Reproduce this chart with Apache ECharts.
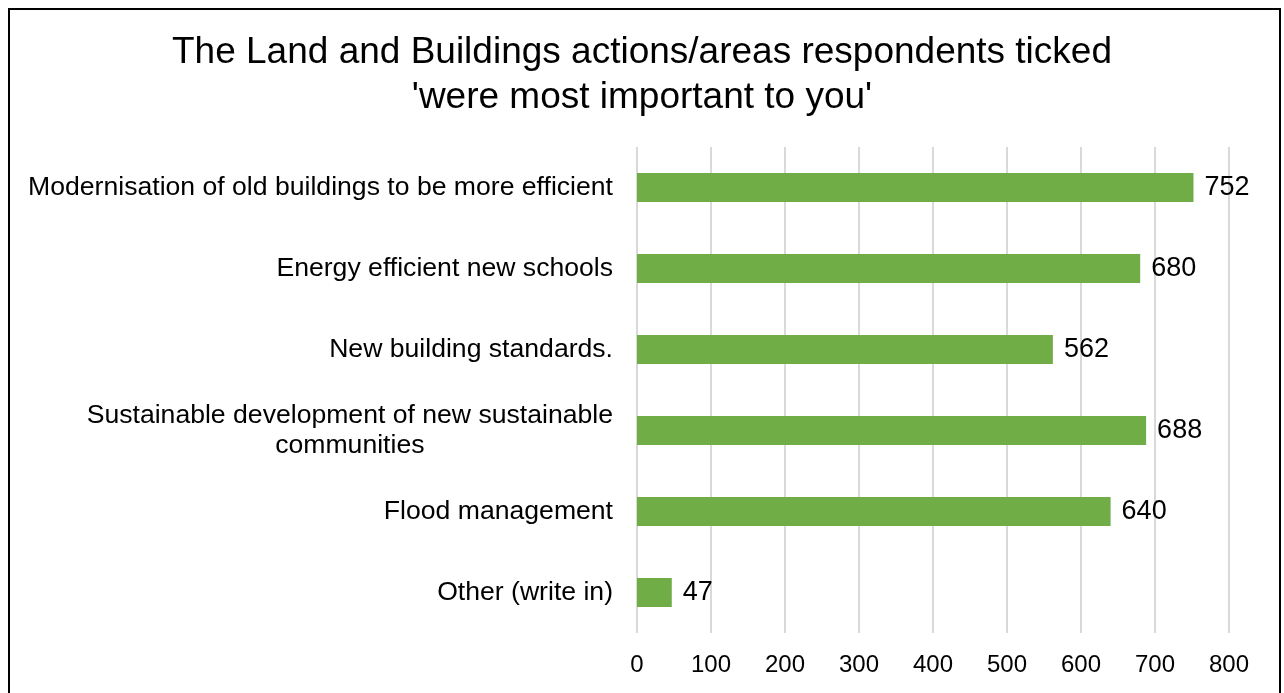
<!DOCTYPE html>
<html>
<head>
<meta charset="utf-8">
<title>Land and Buildings</title>
<script src="https://cdn.jsdelivr.net/npm/echarts@6/dist/echarts.min.js"></script>
<style>
	html, body { margin: 0; padding: 0; background: #ffffff; }
	#chart { width: 1284px; height: 693px; }
</style>
</head>
<body>
<div id="chart"></div>
<script>
	// categories, top to bottom as in the picture
	var categories = [
		'Modernisation of old buildings to be more efficient',
		'Energy efficient new schools',
		'New building standards.',
		'Sustainable development of new sustainable\ncommunities',
		'Flood management',
		'Other (write in)'
	];
	var counts = [752, 680, 562, 688, 640, 47];
	var xTicks = [0, 100, 200, 300, 400, 500, 600, 700, 800];

	var font = 'Liberation Sans, Arial, sans-serif';
	var myChart = echarts.init(document.getElementById('chart'));

	var option = {
		backgroundColor: '#ffffff',
		animation: false,
		title: {
			text: "The Land and Buildings actions/areas respondents ticked\n'were most important to you'",
			left: 'center',
			top: 25,
			textStyle: {
				fontFamily: font,
				fontSize: 37,
				fontWeight: 'normal',
				color: '#000000',
				lineHeight: 45
			}
		},
		graphic: [{
			type: 'rect',
			shape: { x: 9, y: 9, width: 1271, height: 700 },
			style: { fill: 'none', stroke: '#000000', lineWidth: 2 },
			silent: true
		}],
		grid: {
			left: 637,
			right: 55,
			top: 147,
			bottom: 60
		},
		xAxis: {
			type: 'value',
			min: xTicks[0],
			max: xTicks[xTicks.length - 1],
			interval: 100,
			axisLine: { show: false },
			axisTick: { show: false },
			splitLine: { lineStyle: { color: '#d9d9d9', width: 2 } },
			axisLabel: {
				fontFamily: font,
				fontSize: 24,
				color: '#000000',
				margin: 20
			}
		},
		yAxis: {
			type: 'category',
			inverse: true,
			data: categories,
			axisLine: { show: false },
			axisTick: { show: false },
			axisLabel: {
				fontFamily: font,
				fontSize: 26.6,
				color: '#000000',
				margin: 24,
				lineHeight: 30,
				formatter: function (v) {
					return v.split('\n').map(function (s) {
						return '{c|' + s + '}';
					}).join('\n');
				},
				rich: {
					c: {
						fontFamily: font,
						fontSize: 26.6,
						color: '#000000',
						lineHeight: 30,
						align: 'center'
					}
				}
			}
		},
		series: [{
			type: 'bar',
			data: counts,
			barWidth: 29,
			itemStyle: { color: '#70ad47' },
			label: {
				show: true,
				position: 'right',
				distance: 11,
				fontFamily: font,
				fontSize: 27,
				color: '#000000'
			}
		}]
	};
	myChart.setOption(option);
</script>
</body>
</html>
